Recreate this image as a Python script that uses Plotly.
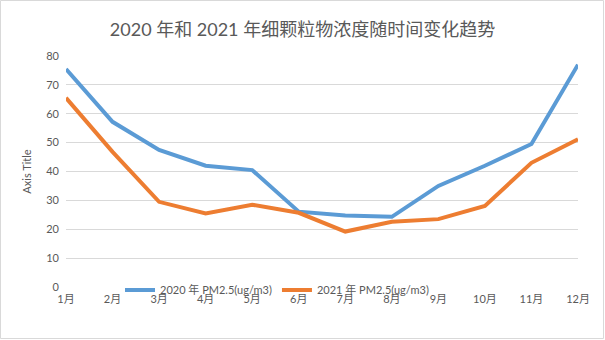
import plotly.graph_objects as go

months = ["1月", "2月", "3月", "4月", "5月", "6月", "7月", "8月", "9月", "10月", "11月", "12月"]
pm2020 = [75.5, 57.2, 47.5, 42.0, 40.5, 26.1, 24.8, 24.3, 35.0, 42.0, 49.5, 77.0]
pm2021 = [65.5, 46.8, 29.5, 25.5, 28.5, 25.7, 19.2, 22.6, 23.5, 28.1, 43.0, 51.2]
series_names = ["2020 年 PM2.5(ug/m3)", "2021 年 PM2.5(ug/m3)"]
title_text = "2020 年和 2021 年细颗粒物浓度随时间变化趋势"
y_ticks = [0, 10, 20, 30, 40, 50, 60, 70, 80]

FONT = "Lato, 'Noto Sans CJK SC', sans-serif"
x_idx = list(range(len(months)))

fig = go.Figure()
fig.add_trace(go.Scatter(x=x_idx, y=pm2020, mode="lines", name=series_names[0],
                         line=dict(color="#5B9BD5", width=4)))
fig.add_trace(go.Scatter(x=x_idx, y=pm2021, mode="lines", name=series_names[1],
                         line=dict(color="#ED7D31", width=4)))

W, H = 605, 340
ml, mr, mt, mb = 66, 27, 56, 53
pw = W - ml - mr
ph = H - mt - mb

fig.update_layout(
    width=W, height=H,
    margin=dict(l=ml, r=mr, t=mt, b=mb),
    paper_bgcolor="white", plot_bgcolor="white",
    font=dict(family=FONT, color="#595959", size=11),
    title=dict(text=title_text, x=0.5, xanchor="center", y=1 - 30 / H, yanchor="middle",
               font=dict(size=18, color="#595959", family=FONT)),
    showlegend=True,
    legend=dict(orientation="h", x=(120 - ml) / pw, xanchor="left",
                y=-(290 - (H - mb)) / ph, yanchor="middle",
                bgcolor="rgba(0,0,0,0)", font=dict(size=11, color="#595959", family=FONT),
                itemwidth=30, tracegroupgap=0),
    xaxis=dict(range=[0, 11], tickmode="array", tickvals=x_idx, ticktext=months,
               showgrid=False, zeroline=False, showline=False, ticks="",
               ticklabelstandoff=4,
               tickfont=dict(size=11, color="#595959"), fixedrange=True),
    yaxis=dict(range=[0, 80], tickmode="array", tickvals=y_ticks,
               showgrid=True, gridcolor="#D9D9D9", gridwidth=1, zeroline=False,
               showline=False, ticks="", ticklabelstandoff=6,
               tickfont=dict(size=11, color="#595959"),
               title=dict(text="Axis Title", font=dict(size=11, color="#595959"), standoff=12),
               fixedrange=True),
    shapes=[dict(type="rect", xref="paper", yref="paper",
                 x0=(0.5 - ml) / pw, x1=(603.5 - ml) / pw,
                 y0=-(338.5 - (H - mb)) / ph, y1=1 + (mt - 0.5) / ph,
                 line=dict(color="#D9D9D9", width=1), fillcolor="rgba(0,0,0,0)", layer="below")],
)

fig.write_html("out.html")
